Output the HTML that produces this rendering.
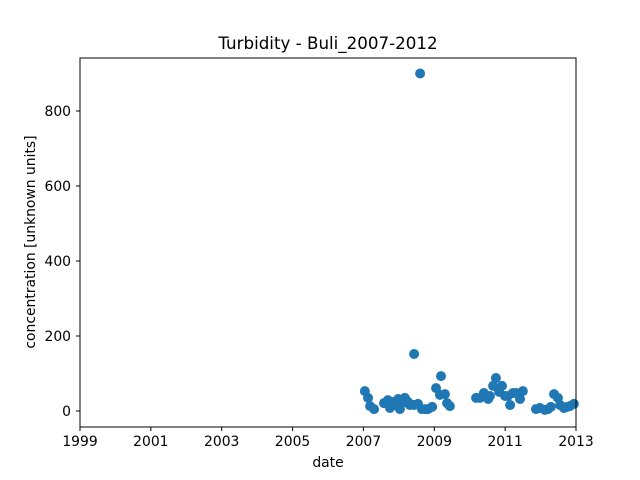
<!DOCTYPE html>
<html><head><meta charset="utf-8"><style>
body{margin:0;background:#fff;}
svg{display:block;font-family:"DejaVu Sans","Liberation Sans",sans-serif;}
</style></head><body>
<svg id="chart" width="640" height="480">
<rect width="640" height="480" fill="#fff"/>
<text x="328" y="49" font-size="16.7" text-anchor="middle">Turbidity - Buli_2007-2012</text>
<g id="marks"></g>
<rect x="80" y="58" width="496" height="369" fill="none" stroke="#000" stroke-width="1"/>
<g id="xticks"></g>
<g id="yticks"></g>
<text x="328" y="467" font-size="13.9" text-anchor="middle">date</text>
<text transform="translate(35,242) rotate(-90)" font-size="13.9" text-anchor="middle">concentration [unknown units]</text>
</svg>
<script>
const years = [2007.04,2007.13,2007.19,2007.30,2007.58,2007.69,2007.75,2007.83,2007.92,2007.98,2008.03,2008.09,2008.17,2008.26,2008.31,2008.43,2008.43,2008.54,2008.60,2008.65,2008.74,2008.82,2008.94,2009.05,2009.16,2009.19,2009.30,2009.36,2009.44,2010.18,2010.29,2010.40,2010.52,2010.57,2010.66,2010.74,2010.83,2010.91,2011.00,2011.08,2011.14,2011.22,2011.31,2011.42,2011.50,2011.87,2011.98,2012.12,2012.21,2012.29,2012.38,2012.49,2012.55,2012.66,2012.75,2012.83,2012.94];
const values = [53,35,13,5,21,29,8,24,16,32,5,21,35,24,16,16,152,19,900,5,5,5,11,61,43,93,45,21,13,35,35,48,32,40,67,88,51,67,40,40,16,48,48,32,53,5,8,3,5,11,45,35,16,8,11,13,19];
const xTickLabels = ["1999","2001","2003","2005","2007","2009","2011","2013"];
const yTickLabels = ["0","200","400","600","800"];
const NS="http://www.w3.org/2000/svg";
const x0=80,x1=576,yb=411,ypx=0.375;
function xs(y){return x0+(y-1999)*(x1-x0)/14;}
function ys(v){return yb-v*ypx;}
const marks=document.getElementById('marks');
years.forEach((yr,i)=>{
  const c=document.createElementNS(NS,'circle');
  c.setAttribute('cx',xs(yr));c.setAttribute('cy',ys(values[i]));c.setAttribute('r',5);c.setAttribute('fill','#1f77b4');
  
  
  marks.appendChild(c);
});
const xt=document.getElementById('xticks');
xTickLabels.forEach(l=>{
  const x=xs(+l);
  const t=document.createElementNS(NS,'line');
  t.setAttribute('x1',x);t.setAttribute('x2',x);t.setAttribute('y1',427);t.setAttribute('y2',431);t.setAttribute('stroke','#000');
  
  
  xt.appendChild(t);
  const tx=document.createElementNS(NS,'text');
  tx.setAttribute('x',x);tx.setAttribute('y',446);tx.setAttribute('font-size','13.9');tx.setAttribute('text-anchor','middle');tx.textContent=l;
  
  
  xt.appendChild(tx);
});
const yt=document.getElementById('yticks');
yTickLabels.forEach(l=>{
  const y=ys(+l);
  const t=document.createElementNS(NS,'line');
  t.setAttribute('x1',76);t.setAttribute('x2',80);t.setAttribute('y1',y);t.setAttribute('y2',y);t.setAttribute('stroke','#000');
  
  
  yt.appendChild(t);
  const tx=document.createElementNS(NS,'text');
  tx.setAttribute('x',71);tx.setAttribute('y',y+5);tx.setAttribute('font-size','13.9');tx.setAttribute('text-anchor','end');tx.textContent=l;
  
  
  yt.appendChild(tx);
});
</script>
</body></html>
